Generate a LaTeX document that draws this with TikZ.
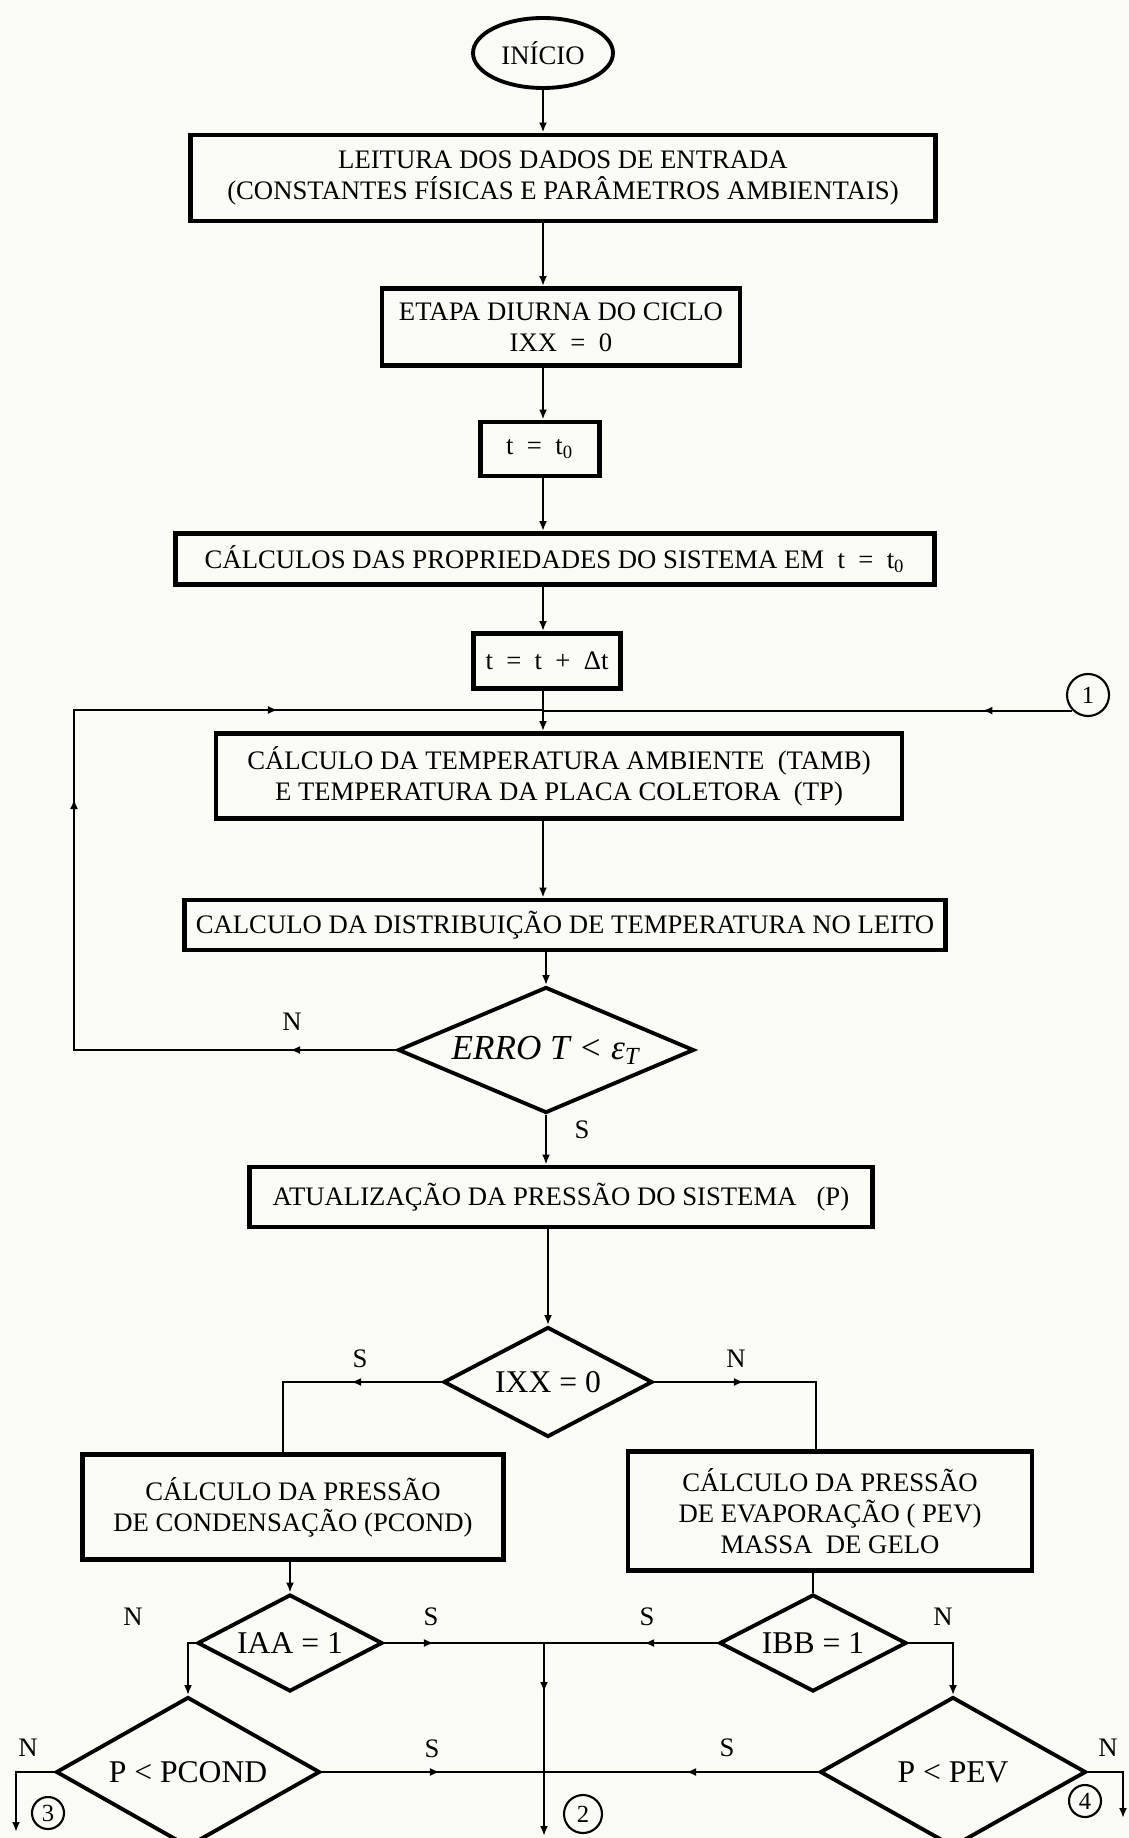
\documentclass[tikz,border=0pt]{standalone}
\usepackage{fontspec}
\setmainfont{Liberation Serif}
\usetikzlibrary{shapes.geometric,arrows.meta,decorations.markings,calc}
\definecolor{papel}{RGB}{251,251,246}

\tikzset{
	proc/.style={draw, line width=1.4pt, inner sep=0pt, align=center},
	decis/.style={diamond, aspect=1.9, draw, line width=1.1pt, inner sep=0pt, align=center, font=\fontsize{9}{10}\selectfont},
	conect/.style={circle, draw, line width=0.6pt, inner sep=0pt, font=\fontsize{7}{8}\selectfont},
	flow/.style={line width=0.6pt},
	seta/.style={flow, -{Latex[length=1mm,width=0.8mm]}},
	meio/.style={postaction={decorate, decoration={markings,
		mark=at position #1 with {\arrow{Latex[length=1mm,width=0.8mm]}}}}}
}

\begin{document}
\begin{tikzpicture}[x=0.1mm, y=-0.1mm, font=\fontsize{7.6}{8.8}\selectfont]
	\fill[papel] (0,0) rectangle (1129,1838);
	\useasboundingbox (0,0) rectangle (1129,1838);
	% eixo principal
	\coordinate (ax) at (543,0);
	
	\node[ellipse, draw, line width=1.1pt, minimum width=14mm, minimum height=7mm, inner sep=0pt] (inicio) at (543,53) {INÍCIO};
	\node[proc, minimum width=74.5mm, minimum height=8.6mm] (leitura) at (563,178)
	{LEITURA DOS DADOS DE ENTRADA\\(CONSTANTES FÍSICAS E PARÂMETROS AMBIENTAIS)};
	\node[proc, minimum width=35.8mm, minimum height=7.7mm] (etapa) at (561,327) {ETAPA DIURNA DO CICLO\\IXX\enspace=\enspace0};
	\node[proc, minimum width=11.9mm, minimum height=5.4mm] (tini) at (540,449) {t\enspace=\enspace t\textsubscript{0}};
	\node[proc, minimum width=75.9mm, minimum height=5.1mm] (props) at (555,559)
	{CÁLCULOS DAS PROPRIEDADES DO SISTEMA EM\ \ t\enspace=\enspace t\textsubscript{0}};
	\node[proc, minimum width=14.7mm, minimum height=5.5mm] (tinc) at (547,661) {t\enspace=\enspace t\enspace+\enspace Δt};
	\node[proc, minimum width=68.6mm, minimum height=8.5mm] (tamb) at (559,776)
	{CÁLCULO DA TEMPERATURA AMBIENTE\ \ (TAMB)\\E TEMPERATURA DA PLACA COLETORA\ \ (TP)};
	\node[proc, minimum width=76.1mm, minimum height=5mm] (leito) at (565,925)
	{CALCULO DA DISTRIBUIÇÃO DE TEMPERATURA NO LEITO};
	\node[decis, aspect=2.35, minimum width=29.6mm, minimum height=12.6mm, font=\fontsize{10}{11}\selectfont] (erro) at (546,1050)
	{\itshape ERRO T < ε\textsubscript{T}};
	\node[proc, minimum width=62.3mm, minimum height=6mm] (press) at (561,1197)
	{ATUALIZAÇÃO DA PRESSÃO DO SISTEMA\ \ \ (P)};
	\node[decis, minimum width=20.9mm, minimum height=11mm] (ixx) at (548,1382) {IXX = 0};
	\node[proc, minimum width=42.1mm, minimum height=10.5mm] (calccond) at (293,1507)
	{CÁLCULO DA PRESSÃO\\DE CONDENSAÇÃO (PCOND)};
	\node[proc, minimum width=40.4mm, minimum height=11.9mm] (calcevap) at (830,1511)
	{CÁLCULO DA PRESSÃO\\DE EVAPORAÇÃO ( PEV)\\MASSA\ \ DE GELO};
	\node[decis, minimum width=18.5mm, minimum height=9.7mm] (testaa) at (290,1643) {IAA = 1};
	\node[decis, minimum width=18.7mm, minimum height=9.7mm] (testbb) at (813,1643) {IBB = 1};
	\node[decis, aspect=1.76, minimum width=26.4mm, minimum height=15mm] (testcond) at (188,1772) {P < PCOND};
	\node[decis, aspect=1.76, minimum width=26.6mm, minimum height=15mm] (testevap) at (953,1772) {P < PEV};
	
	% conectores
	\node[conect, minimum size=4.2mm] (k1) at (1088,695) {1};
	\node[conect, minimum size=3.8mm] (k2) at (583,1814) {2};
	\node[conect, minimum size=3.2mm] (k3) at (48,1813) {3};
	\node[conect, minimum size=3.2mm] (k4) at (1085,1801) {4};
	
	\draw[seta] (inicio.south) -- (ax |- leitura.north);
	\draw[seta] (ax |- leitura.south) -- (ax |- etapa.north);
	\draw[seta] (ax |- etapa.south) -- (ax |- tini.north);
	\draw[seta] (ax |- tini.south) -- (ax |- props.north);
	\draw[seta] (ax |- props.south) -- (ax |- tinc.north);
	\draw[seta] (ax |- tinc.south) -- (ax |- tamb.north);
	\draw[seta] (ax |- tamb.south) -- (ax |- leito.north);
	\draw[seta] (leito.south -| erro.north) -- (erro.north);
	\draw[seta] (erro.south) -- (erro.south |- press.north);
	\draw[seta] (press.south -| ixx.north) -- (ixx.north);
	
	% laco de retorno
	\coordinate (lj) at (543,710);
	\coordinate (lc) at (74,710);
	\draw[flow, meio=10.6mm, meio=57.3mm, meio=86.6mm] (erro.west) -| (lc) -- (lj);
	\draw[flow, meio=9mm] (k1.south west) -- (k1.south west -| lj);
	\node at (292,1022) {N};
	\node at (582,1130) {S};
	
	% ramos de IXX
	\draw[flow, meio=9.05mm] (ixx.west) -| ([xshift=-1mm]calccond.north);
	\draw[flow, meio=8.95mm] (ixx.east) -| ([xshift=-1.4mm]calcevap.north);
	\node at (360,1359) {S};
	\node at (736,1359) {N};
	\draw[seta] (calccond.south -| testaa.north) -- (testaa.north);
	\draw[flow] (calcevap.south -| testbb.north) -- (testbb.north);
	
	% saidas
	\coordinate (jm) at (544,1643);
	\coordinate (jb) at (544,1772);
	\coordinate (s2) at (544,1836);
	\coordinate (s3) at (16,1832);
	\coordinate (s4) at (1123,1818);
	\draw[flow, meio=4.95mm] (testaa.east) -- (jm);
	\draw[flow, meio=7.35mm] (testbb.west) -- (jm);
	\draw[seta, meio=4.9mm] (jm) -- (s2);
	\draw[flow, meio=11.8mm] (testcond.east) -- (jb);
	\draw[flow, meio=13.2mm] (testevap.west) -- (jb);
	\draw[seta] (testaa.west) -| (testcond.north);
	\draw[seta] (testbb.east) -| (testevap.north);
	\draw[seta] (testcond.west) -| (s3);
	\draw[seta] (testevap.east) -| (s4);
	\node at (133,1617) {N};
	\node at (431,1617) {S};
	\node at (647,1617) {S};
	\node at (943,1617) {N};
	\node at (28,1748) {N};
	\node at (432,1749) {S};
	\node at (727,1748) {S};
	\node at (1108,1748) {N};
\end{tikzpicture}
\end{document}
